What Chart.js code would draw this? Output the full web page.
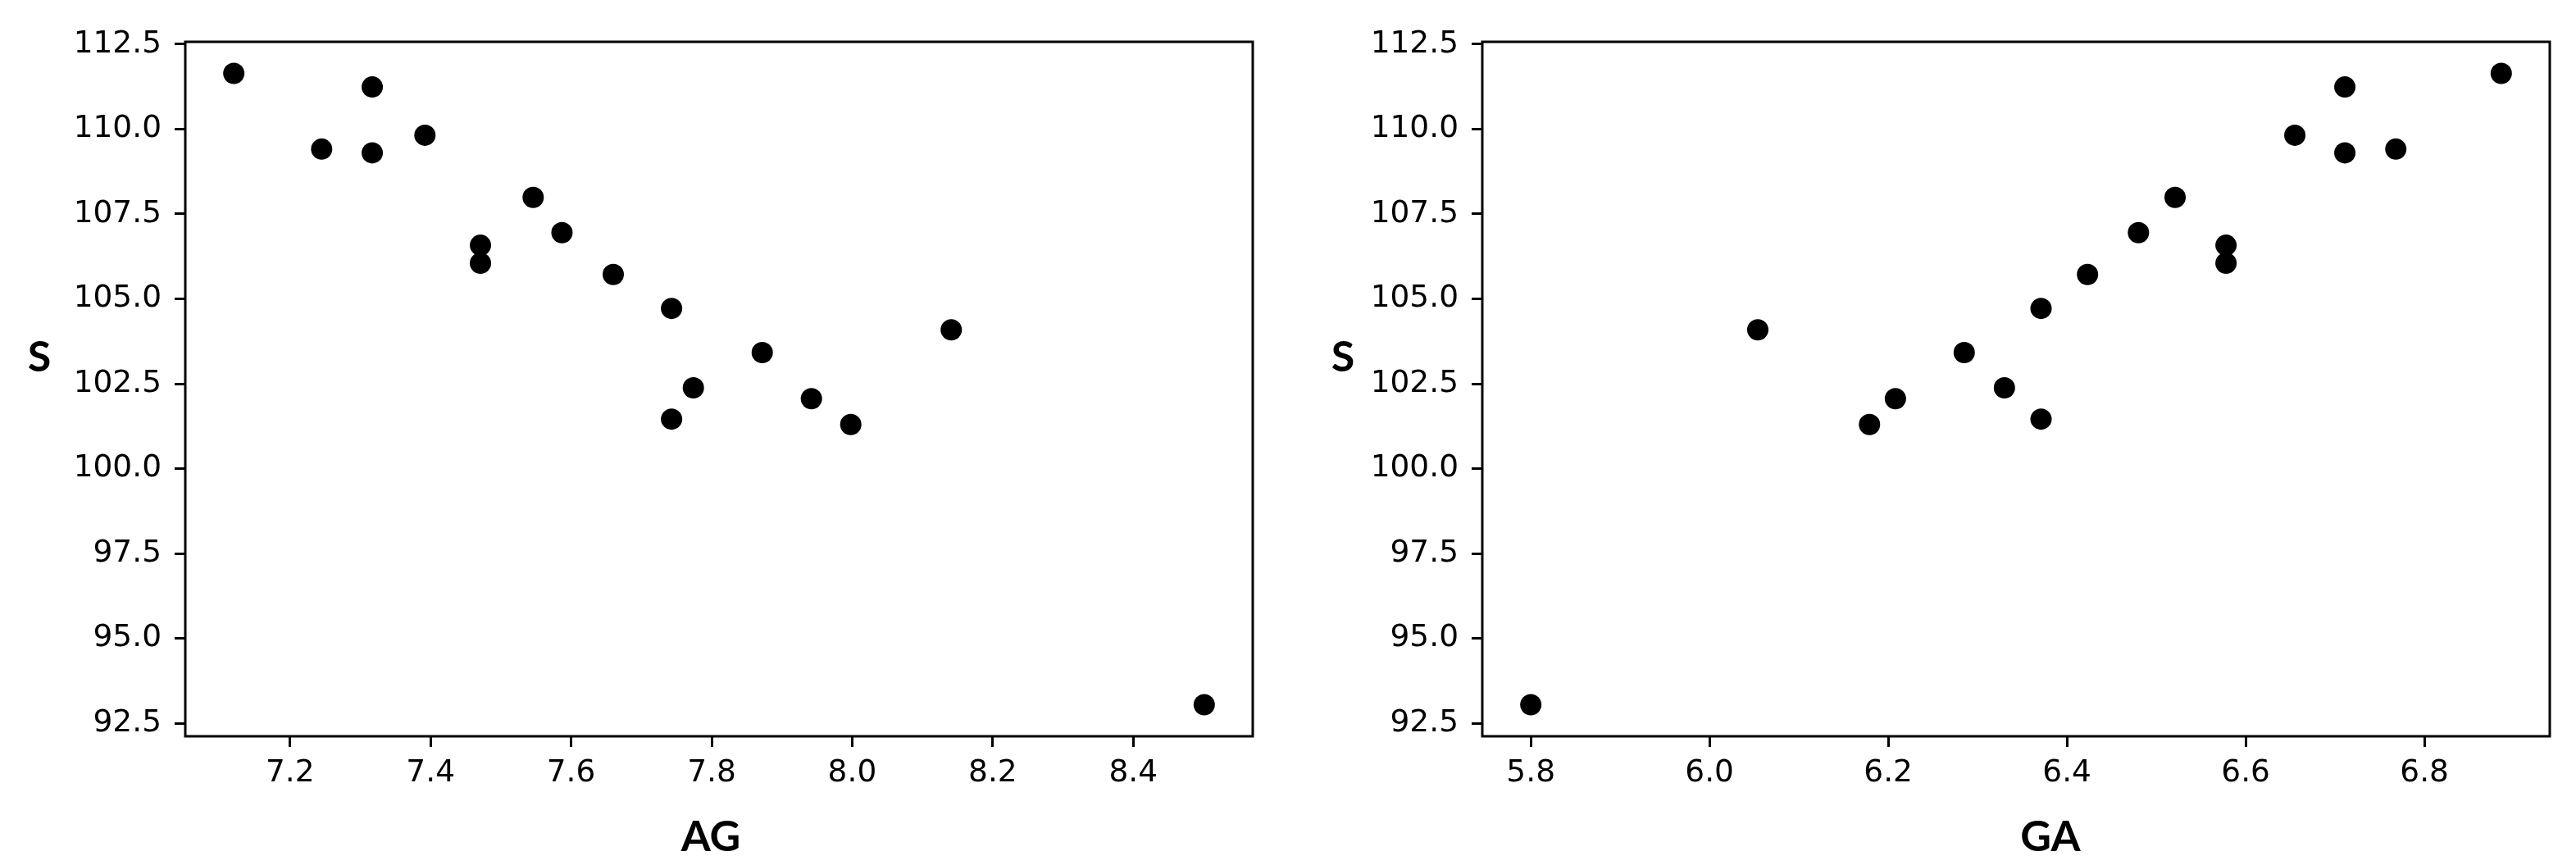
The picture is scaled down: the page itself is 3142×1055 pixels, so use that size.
<!DOCTYPE html>
<html><head><meta charset="utf-8">
<script src="https://cdn.jsdelivr.net/npm/chart.js@4"></script>
<style>
html,body{margin:0;padding:0;background:#fff;}
#wrap{position:relative;width:3142px;height:1055px;background:#fff;}
.box{position:absolute;top:0;height:1055px;width:1571px;}
</style></head><body>
<div id="wrap">
<div class="box" style="left:0"><canvas id="c1" width="1571" height="1055"></canvas></div>
<div class="box" style="left:1571px"><canvas id="c2" width="1571" height="1055"></canvas></div>
</div>
<script>
// ---- data ----
const S  = [111.64, 109.41, 111.24, 109.30, 109.82, 106.58, 106.05, 107.99, 106.95, 105.72, 104.72, 104.09, 103.42, 102.38, 102.06, 101.46, 101.30, 93.05];
const AG = [7.120, 7.245, 7.317, 7.317, 7.392, 7.471, 7.471, 7.546, 7.587, 7.660, 7.743, 8.141, 7.872, 7.774, 7.942, 7.743, 7.998, 8.501];
const GA = [6.886, 6.768, 6.711, 6.711, 6.655, 6.578, 6.578, 6.521, 6.480, 6.423, 6.371, 6.054, 6.285, 6.330, 6.208, 6.371, 6.179, 5.800];
const yTicks  = [92.5, 95.0, 97.5, 100.0, 102.5, 105.0, 107.5, 110.0, 112.5];
const agTicks = [7.2, 7.4, 7.6, 7.8, 8.0, 8.2, 8.4];
const gaTicks = [5.8, 6.0, 6.2, 6.4, 6.6, 6.8];
const yLabel = 'S';

function padRange(arr) {
  const mn = Math.min(...arr), mx = Math.max(...arr), m = (mx - mn) * 0.05;
  return [mn - m, mx + m];
}

const framePlugin = {
  id: 'frame',
  afterDatasetsDraw(chart) {
    const a = chart.chartArea, ctx = chart.ctx;
    ctx.save();
    ctx.strokeStyle = '#000';
    ctx.lineWidth = 3;
    ctx.strokeRect(a.left, a.top, a.right - a.left, a.bottom - a.top);
    ctx.restore();
  }
};
const labelPlugin = {
  id: 'axlabels',
  afterDraw(chart, args, o) {
    const ctx = chart.ctx;
    ctx.save();
    ctx.fillStyle = '#000';
    ctx.font = 'bold 52px Lato, "Open Sans", sans-serif';
    ctx.textAlign = 'center';
    ctx.textBaseline = 'alphabetic';
    ctx.fillText(yLabel, o.sx, o.sy);
    ctx.fillText(o.xl, o.xx, o.xy);
    ctx.restore();
  }
};

function makeChart(id, xs, xTicks, xLabel, areaLeft, areaRight, lab) {
  const pts = xs.map((x, i) => ({ x: x, y: S[i] }));
  const xr = padRange(xs), yr = padRange(S);
  const tickFont = { family: '"DejaVu Sans", sans-serif', size: 37.5 };
  const W = 1571, H = 1055, top = 51, bottom = 898;
  return new Chart(document.getElementById(id), {
    type: 'scatter',
    data: { datasets: [{ data: pts, backgroundColor: '#000', borderWidth: 0,
      pointRadius: 13, pointHoverRadius: 13 }] },
    plugins: [framePlugin, labelPlugin],
    options: {
      responsive: false, animation: false, devicePixelRatio: 1,
      layout: { padding: { left: 0, right: W - areaRight, top: top, bottom: 0 } },
      plugins: { legend: { display: false }, tooltip: { enabled: false }, axlabels: lab },
      events: [],
      scales: {
        x: {
          type: 'linear', min: xr[0], max: xr[1],
          afterBuildTicks: s => { s.ticks = xTicks.map(v => ({ value: v })); },
          afterFit: s => { s.height = H - bottom; },
          grid: { display: true, drawOnChartArea: false, drawTicks: true, tickLength: 13, tickWidth: 3, tickColor: '#000' },
          border: { display: false },
          ticks: { color: '#000', font: tickFont, padding: 10, autoSkip: false, maxRotation: 0,
            callback: v => Number(v).toFixed(1) }
        },
        y: {
          type: 'linear', min: yr[0], max: yr[1],
          afterBuildTicks: s => { s.ticks = yTicks.map(v => ({ value: v })); },
          afterFit: s => { s.width = areaLeft; },
          grid: { display: true, drawOnChartArea: false, drawTicks: true, tickLength: 13, tickWidth: 3, tickColor: '#000' },
          border: { display: false },
          ticks: { color: '#000', font: tickFont, padding: 16, autoSkip: false,
            callback: v => Number(v).toFixed(1) }
        }
      }
    }
  });
}

makeChart('c1', AG, agTicks, 'AG', 226, 1528, { sx: 48, sy: 453, xl: 'AG', xx: 867, xy: 1038 });
makeChart('c2', GA, gaTicks, 'GA', 1808 - 1571, 3110 - 1571, { sx: 67, sy: 453, xl: 'GA', xx: 930, xy: 1038 });
</script>
</body></html>
